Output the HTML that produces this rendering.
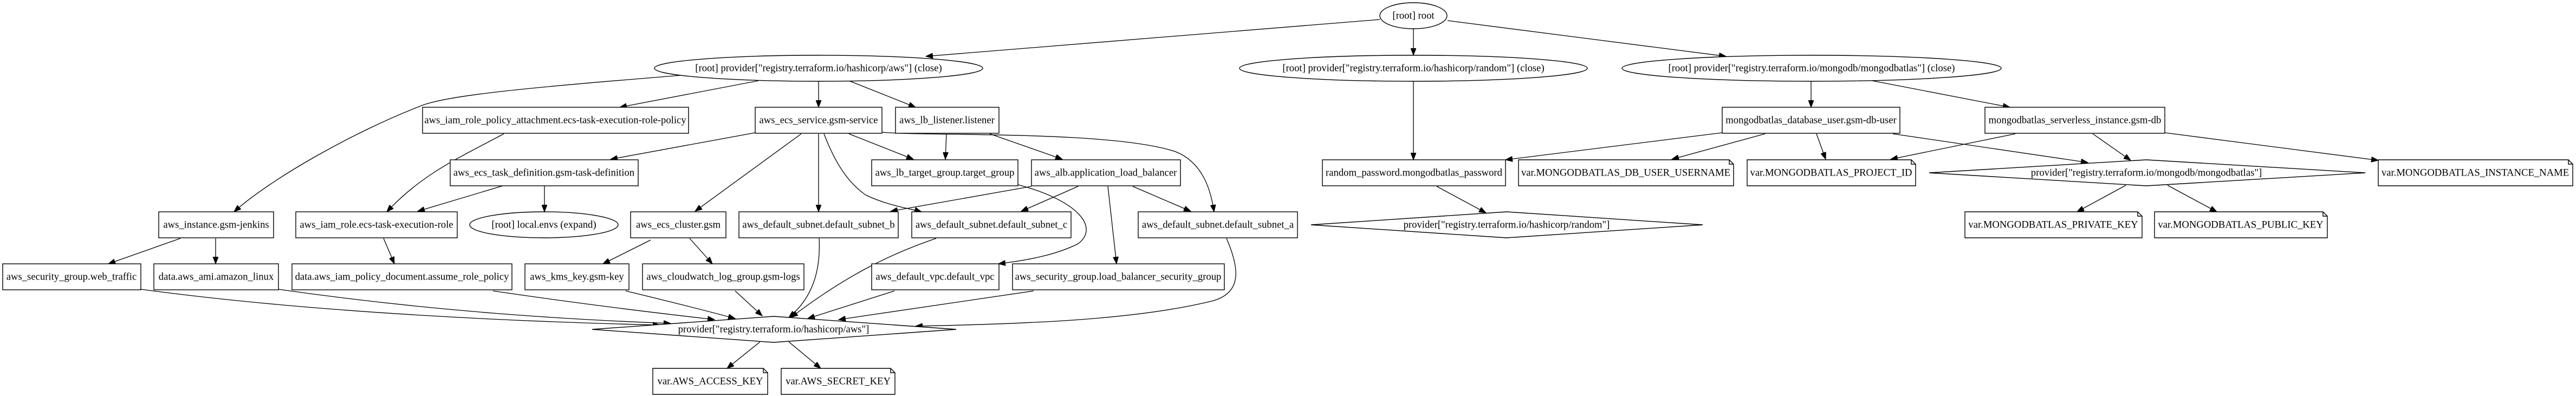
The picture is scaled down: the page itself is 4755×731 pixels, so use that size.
<!DOCTYPE html>
<html><head><meta charset="utf-8"><style>
html,body{margin:0;padding:0;background:#fff;}
svg{display:block;}
text{font-family:"Liberation Serif",serif;font-size:18.67px;fill:#000;text-anchor:middle;dominant-baseline:central;}
.n{fill:#fff;stroke:#000;stroke-width:1.4;}
.e{fill:none;stroke:#000;stroke-width:1.3;marker-end:url(#a);}
</style></head><body>
<svg width="4755" height="731" viewBox="0 0 4755 731" xmlns="http://www.w3.org/2000/svg">
<defs><marker id="a" markerUnits="userSpaceOnUse" markerWidth="14" markerHeight="10" refX="13" refY="5" orient="auto"><path d="M0,0 L13,5 L0,10 Z" fill="#000" stroke="#000"/></marker></defs>

<!-- edges -->
<g>
<path class="e" d="M2547,36 L1709,104"/>
<path class="e" d="M2609,53 L2609,102"/>
<path class="e" d="M2672,38 L3186,104"/>
<path class="e" d="M2609,150 L2609,295"/>
<path class="e" d="M1257,139 C1000,160 820,175 773,197 C650,245 500,330 432,391"/>
<path class="e" d="M1400,149 L1144,198"/>
<path class="e" d="M1511,150 L1511,198"/>
<path class="e" d="M1567,149 L1690,198"/>
<path class="e" d="M1394,245 L1127,294"/>
<path class="e" d="M930,247 C850,290 780,320 714,391"/>
<path class="e" d="M928,343 L771,390"/>
<path class="e" d="M1005,343 L1005,391"/>
<path class="e" d="M1479,247 L1283,390"/>
<path class="e" d="M1511,247 L1511,391"/>
<path class="e" d="M1521,247 C1545,310 1570,340 1598,360 C1640,380 1680,385 1701,391"/>
<path class="e" d="M1567,247 L1686,294"/>
<path class="e" d="M1628,244 C1700,252 2050,240 2170,280 C2220,300 2235,350 2241,391"/>
<path class="e" d="M1747,247 L1745,294"/>
<path class="e" d="M1827,247 L1961,294"/>
<path class="e" d="M1904,344 L1644,390"/>
<path class="e" d="M1990,344 L1885,390"/>
<path class="e" d="M2091,344 L2198,390"/>
<path class="e" d="M2045,344 L2061,487"/>
<path class="e" d="M1879,341 C1990,370 2030,420 1990,450 C1950,470 1900,480 1843,487"/>
<path class="e" d="M1201,443 L1113,487"/>
<path class="e" d="M1273,440 L1315,487"/>
<path class="e" d="M333,440 L200,487"/>
<path class="e" d="M398,440 L398,487"/>
<path class="e" d="M708,440 L728,487"/>
<path class="e" d="M260,534 C600,580 1000,595 1218,600"/>
<path class="e" d="M514,534 C800,575 1050,590 1238,597"/>
<path class="e" d="M910,537 C1100,565 1250,582 1319,590"/>
<path class="e" d="M1155,537 C1250,560 1320,578 1357,588"/>
<path class="e" d="M1357,537 L1407,583"/>
<path class="e" d="M1512,440 C1515,500 1500,550 1456,586"/>
<path class="e" d="M1728,440 C1640,470 1560,510 1460,586"/>
<path class="e" d="M1651,537 L1491,588"/>
<path class="e" d="M1908,537 L1548,590"/>
<path class="e" d="M2264,440 C2290,500 2290,540 2240,555 C2100,590 1900,598 1690,602"/>
<path class="e" d="M1403,631 L1342,680"/>
<path class="e" d="M1456,631 L1515,680"/>
<path class="e" d="M3343,150 L3343,198"/>
<path class="e" d="M3456,149 L3710,198"/>
<path class="e" d="M3179,245 L2779,295"/>
<path class="e" d="M3258,247 L3086,294"/>
<path class="e" d="M3353,247 L3370,294"/>
<path class="e" d="M3494,247 L3854,300"/>
<path class="e" d="M3720,247 L3490,294"/>
<path class="e" d="M3863,247 L3933,296"/>
<path class="e" d="M3996,245 L4390,296"/>
<path class="e" d="M2652,344 L2743,393"/>
<path class="e" d="M3924,342 L3834,391"/>
<path class="e" d="M4001,342 L4092,391"/>
</g>

<!-- ellipses -->
<ellipse class="n" cx="2609" cy="29" rx="62" ry="24"/><text x="2609" y="29">[root] root</text>
<ellipse class="n" cx="1511" cy="126" rx="303" ry="24"/><text x="1511" y="126">[root] provider["registry.terraform.io/hashicorp/aws"] (close)</text>
<ellipse class="n" cx="2609" cy="126" rx="321" ry="24"/><text x="2609" y="126">[root] provider["registry.terraform.io/hashicorp/random"] (close)</text>
<ellipse class="n" cx="3344" cy="126" rx="350" ry="24"/><text x="3344" y="126">[root] provider["registry.terraform.io/mongodb/mongodbatlas"] (close)</text>
<ellipse class="n" cx="1004" cy="415" rx="137" ry="24"/><text x="1004" y="415">[root] local.envs (expand)</text>

<!-- boxes row2 -->
<rect class="n" x="780" y="198" width="491" height="48"/><text x="1025" y="222">aws_iam_role_policy_attachment.ecs-task-execution-role-policy</text>
<rect class="n" x="1394" y="198" width="234" height="48"/><text x="1511" y="222">aws_ecs_service.gsm-service</text>
<rect class="n" x="1653" y="198" width="191" height="48"/><text x="1748" y="222">aws_lb_listener.listener</text>
<rect class="n" x="3179" y="198" width="328" height="48"/><text x="3343" y="222">mongodbatlas_database_user.gsm-db-user</text>
<rect class="n" x="3664" y="198" width="332" height="48"/><text x="3830" y="222">mongodbatlas_serverless_instance.gsm-db</text>

<!-- row3 -->
<rect class="n" x="831" y="295" width="347" height="48"/><text x="1004" y="319">aws_ecs_task_definition.gsm-task-definition</text>
<rect class="n" x="1609" y="295" width="270" height="48"/><text x="1744" y="319">aws_lb_target_group.target_group</text>
<rect class="n" x="1904" y="295" width="275" height="48"/><text x="2041" y="319">aws_alb.application_load_balancer</text>
<rect class="n" x="2441" y="295" width="338" height="48"/><text x="2610" y="319">random_password.mongodbatlas_password</text>
<path class="n" d="M2803,295 H3192 L3200,303 V343 H2803 Z M3192,295 V303 H3200"/><text x="3001" y="319">var.MONGODBATLAS_DB_USER_USERNAME</text>
<path class="n" d="M3225,295 H3528 L3536,303 V343 H3225 Z M3528,295 V303 H3536"/><text x="3380" y="319">var.MONGODBATLAS_PROJECT_ID</text>
<polygon class="n" points="3561,319 3962,295 4366,319 3962,343"/><text x="3962" y="319">provider["registry.terraform.io/mongodb/mongodbatlas"]</text>
<path class="n" d="M4390,295 H4741 L4749,303 V343 H4390 Z M4741,295 V303 H4749"/><text x="4569" y="319">var.MONGODBATLAS_INSTANCE_NAME</text>

<!-- row4 -->
<rect class="n" x="293" y="391" width="212" height="48"/><text x="399" y="415">aws_instance.gsm-jenkins</text>
<rect class="n" x="546" y="391" width="298" height="48"/><text x="695" y="415">aws_iam_role.ecs-task-execution-role</text>
<rect class="n" x="1164" y="391" width="176" height="48"/><text x="1252" y="415">aws_ecs_cluster.gsm</text>
<rect class="n" x="1364" y="391" width="294" height="48"/><text x="1511" y="415">aws_default_subnet.default_subnet_b</text>
<rect class="n" x="1683" y="391" width="294" height="48"/><text x="1830" y="415">aws_default_subnet.default_subnet_c</text>
<rect class="n" x="2101" y="391" width="294" height="48"/><text x="2248" y="415">aws_default_subnet.default_subnet_a</text>
<polygon class="n" points="2420,415 2781,391 3143,415 2781,439"/><text x="2781" y="415">provider["registry.terraform.io/hashicorp/random"]</text>
<path class="n" d="M3627,391 H3946 L3954,399 V439 H3627 Z M3946,391 V399 H3954"/><text x="3790" y="415">var.MONGODBATLAS_PRIVATE_KEY</text>
<path class="n" d="M3977,391 H4288 L4296,399 V439 H3977 Z M4288,391 V399 H4296"/><text x="4136" y="415">var.MONGODBATLAS_PUBLIC_KEY</text>

<!-- row5 -->
<rect class="n" x="5" y="487" width="255" height="48"/><text x="132" y="511">aws_security_group.web_traffic</text>
<rect class="n" x="284" y="487" width="230" height="48"/><text x="399" y="511">data.aws_ami.amazon_linux</text>
<rect class="n" x="539" y="487" width="406" height="48"/><text x="742" y="511">data.aws_iam_policy_document.assume_role_policy</text>
<rect class="n" x="969" y="487" width="192" height="48"/><text x="1065" y="511">aws_kms_key.gsm-key</text>
<rect class="n" x="1186" y="487" width="298" height="48"/><text x="1335" y="511">aws_cloudwatch_log_group.gsm-logs</text>
<rect class="n" x="1609" y="487" width="235" height="48"/><text x="1726" y="511">aws_default_vpc.default_vpc</text>
<rect class="n" x="1869" y="487" width="391" height="48"/><text x="2064" y="511">aws_security_group.load_balancer_security_group</text>

<!-- row6 -->
<polygon class="n" points="1093,608 1428,584 1765,608 1428,632"/><text x="1428" y="608">provider["registry.terraform.io/hashicorp/aws"]</text>

<!-- row7 -->
<path class="n" d="M1205,680 H1409 L1417,688 V728 H1205 Z M1409,680 V688 H1417"/><text x="1311" y="704">var.AWS_ACCESS_KEY</text>
<path class="n" d="M1442,680 H1644 L1652,688 V728 H1442 Z M1644,680 V688 H1652"/><text x="1547" y="704">var.AWS_SECRET_KEY</text>
</svg>
</body></html>
